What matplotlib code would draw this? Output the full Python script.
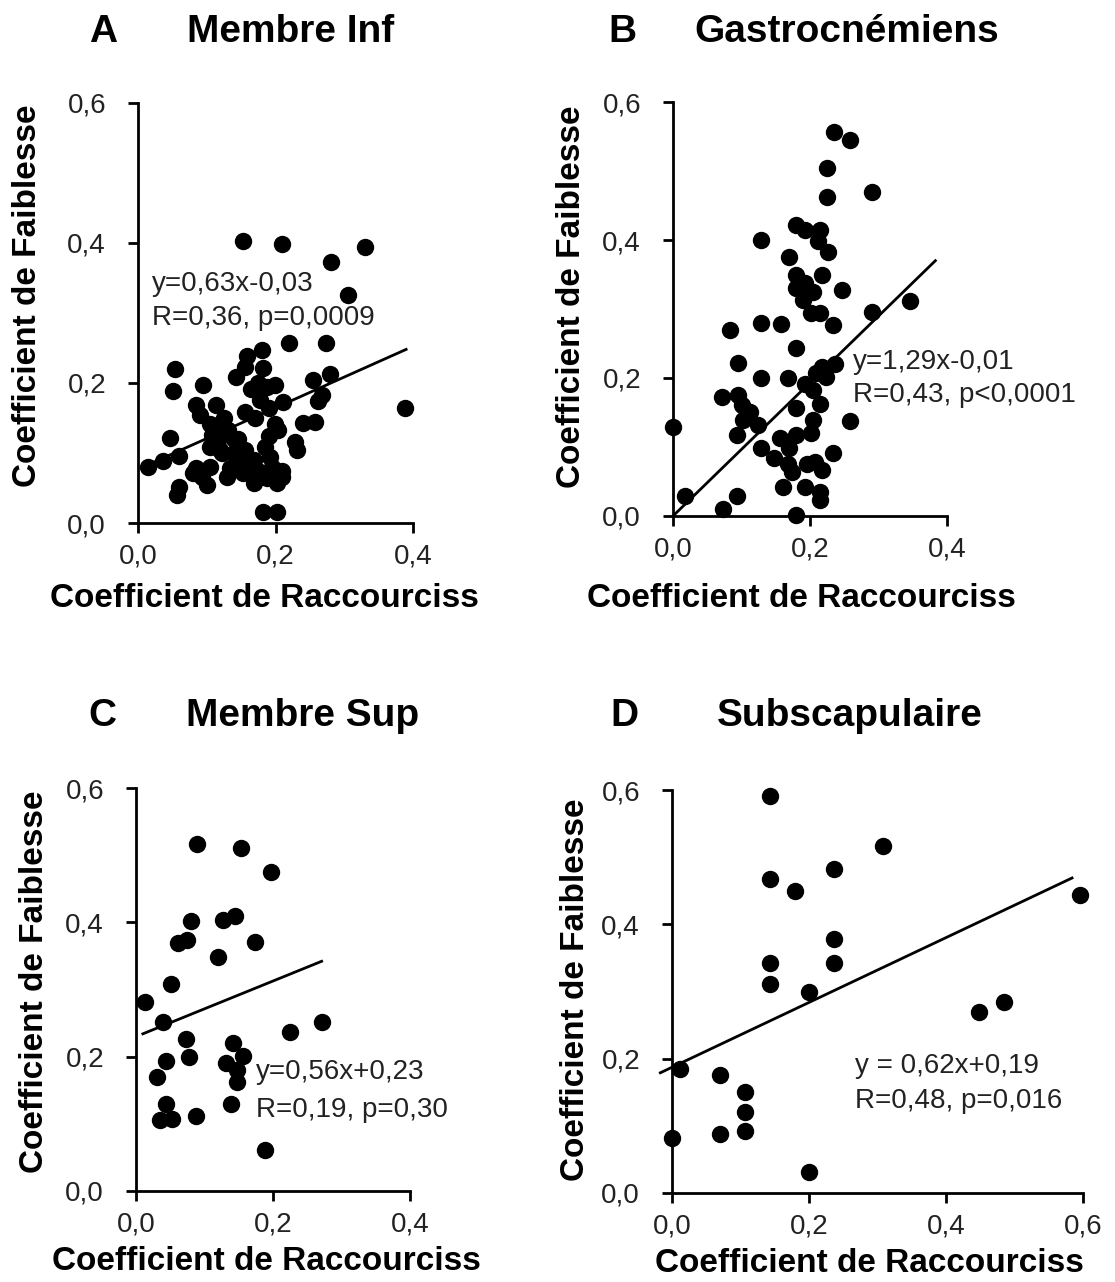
import matplotlib
matplotlib.use("Agg")
import matplotlib.pyplot as plt

W, H = 1115, 1282

# Panel A - Membre Inf
a_x = [0.153, 0.210, 0.330, 0.281, 0.306, 0.220, 0.273, 0.388,
       0.180, 0.158, 0.182, 0.143, 0.156, 0.054, 0.051, 0.095, 0.084, 0.114,
       0.165, 0.187, 0.199, 0.211, 0.255, 0.279, 0.267, 0.262, 0.156, 0.190,
       0.199, 0.204, 0.240, 0.257, 0.105, 0.117, 0.131, 0.107, 0.047, 0.228,
       0.231, 0.014, 0.037, 0.060, 0.085, 0.080, 0.100, 0.105, 0.119, 0.129,
       0.139, 0.156, 0.168, 0.153, 0.168, 0.185, 0.192, 0.187, 0.202, 0.209,
       0.059, 0.057, 0.182, 0.202, 0.148, 0.093, 0.122, 0.134, 0.105, 0.117,
       0.177, 0.170, 0.145, 0.125, 0.113, 0.160, 0.175, 0.195, 0.210, 0.090,
       0.140, 0.190, 0.175]
a_y = [0.403, 0.399, 0.394, 0.373, 0.326, 0.257, 0.257, 0.165,
       0.247, 0.238, 0.221, 0.209, 0.223, 0.220, 0.188, 0.197, 0.169, 0.169,
       0.192, 0.195, 0.197, 0.173, 0.204, 0.213, 0.183, 0.175, 0.159, 0.164,
       0.142, 0.133, 0.143, 0.144, 0.142, 0.140, 0.133, 0.126, 0.121, 0.116,
       0.104, 0.080, 0.088, 0.096, 0.078, 0.071, 0.054, 0.080, 0.104, 0.066,
       0.100, 0.104, 0.090, 0.071, 0.057, 0.109, 0.095, 0.064, 0.057, 0.066,
       0.052, 0.040, 0.016, 0.016, 0.090, 0.066, 0.100, 0.078, 0.109, 0.119,
       0.176, 0.150, 0.120, 0.150, 0.128, 0.085, 0.075, 0.080, 0.075, 0.155,
       0.120, 0.125, 0.200]
a_fit_x = [0.014, 0.390]
a_fit_y = [0.083, 0.248]

# Panel B - Gastrocnémiens
b_x = [0.235, 0.258, 0.225, 0.225, 0.290, 0.180, 0.192, 0.214, 0.212, 0.226,
       0.128, 0.169, 0.180, 0.217, 0.180, 0.192, 0.204, 0.246, 0.190, 0.202,
       0.214, 0.234, 0.290, 0.346, 0.083, 0.128, 0.158, 0.180, 0.095, 0.217,
       0.236, 0.209, 0.224, 0.128, 0.168, 0.192, 0.204, 0.071, 0.095, 0.100,
       0.112, 0.102, 0.124, 0.180, 0.214, 0.204, 0.258, 0.000, 0.093, 0.202,
       0.129, 0.156, 0.180, 0.170, 0.148, 0.168, 0.173, 0.195, 0.207, 0.217,
       0.234, 0.160, 0.192, 0.214, 0.214, 0.093, 0.017, 0.073, 0.180]
b_y = [0.556, 0.545, 0.505, 0.462, 0.470, 0.422, 0.414, 0.414, 0.398, 0.383,
       0.400, 0.376, 0.349, 0.349, 0.330, 0.337, 0.325, 0.328, 0.313, 0.294,
       0.294, 0.277, 0.296, 0.312, 0.269, 0.279, 0.278, 0.243, 0.222, 0.216,
       0.221, 0.207, 0.202, 0.200, 0.200, 0.192, 0.183, 0.173, 0.175, 0.161,
       0.151, 0.139, 0.132, 0.156, 0.163, 0.139, 0.137, 0.129, 0.117, 0.120,
       0.098, 0.113, 0.117, 0.098, 0.084, 0.076, 0.064, 0.076, 0.078, 0.067,
       0.091, 0.042, 0.042, 0.035, 0.023, 0.029, 0.029, 0.010, 0.001]
b_fit_x = [0.0, 0.383]
b_fit_y = [0.0, 0.370]

# Panel C - Membre Sup
c_x = [0.089, 0.154, 0.197, 0.080, 0.127, 0.145, 0.062, 0.074, 0.174, 0.120,
       0.051, 0.013, 0.039, 0.271, 0.225, 0.073, 0.142, 0.078, 0.044, 0.156,
       0.132, 0.147, 0.147, 0.030, 0.044, 0.035, 0.052, 0.088, 0.139, 0.188]
c_y = [0.516, 0.510, 0.475, 0.402, 0.404, 0.409, 0.369, 0.374, 0.371, 0.348,
       0.308, 0.282, 0.251, 0.252, 0.236, 0.227, 0.221, 0.200, 0.194, 0.201,
       0.190, 0.180, 0.163, 0.169, 0.130, 0.106, 0.107, 0.111, 0.130, 0.061]
c_fit_x = [0.010, 0.271]
c_fit_y = [0.234, 0.342]

# Panel D - Subscapulaire
d_x = [0.143, 0.308, 0.236, 0.143, 0.179, 0.595, 0.236, 0.143, 0.236, 0.143,
       0.200, 0.485, 0.448, 0.012, 0.070, 0.106, 0.106, 0.106, 0.070, 0.000,
       0.200]
d_y = [0.591, 0.516, 0.482, 0.467, 0.450, 0.443, 0.378, 0.343, 0.343, 0.311,
       0.299, 0.284, 0.270, 0.185, 0.176, 0.151, 0.121, 0.092, 0.088, 0.082,
       0.032]
d_fit_x = [-0.017, 0.584]
d_fit_y = [0.179, 0.469]

y_ticks = [0.0, 0.2, 0.4, 0.6]
y_ticklabels = ["0,0", "0,2", "0,4", "0,6"]

plt.rcParams["font.family"] = ["Liberation Sans", "DejaVu Sans"]

fig = plt.figure(figsize=(W / 100, H / 100), dpi=100)


def px_axes(left, top, right, bottom):
    return fig.add_axes([left / W, 1 - bottom / H, (right - left) / W, (bottom - top) / H])


def ftext(x, y, s, **kw):
    fig.text(x / W, 1 - y / H, s, **kw)


panels = [
    # axes box (px), data, fit, xmax, letter/title positions, label positions, annotation
    dict(box=(138, 103, 413, 523), x=a_x, y=a_y, fx=a_fit_x, fy=a_fit_y, xmax=0.4,
         letter=("A", 89, 32), title=("Membre Inf", 187, 32),
         xlab=(264, 598), ylab=(28, 296),
         ann=[("y=0,63x-0,03", 152, 284), ("R=0,36, p=0,0009", 152, 318)]),
    dict(box=(673, 102, 947, 516), x=b_x, y=b_y, fx=b_fit_x, fy=b_fit_y, xmax=0.4,
         letter=("B", 608, 32), title=("Gastrocnémiens", 694, 32),
         xlab=(801, 598), ylab=(572, 297),
         ann=[("y=1,29x-0,01", 853, 362), ("R=0,43, p<0,0001", 853, 395)]),
    dict(box=(136, 788, 410, 1191), x=c_x, y=c_y, fx=c_fit_x, fy=c_fit_y, xmax=0.4,
         letter=("C", 88, 716), title=("Membre Sup", 186, 716),
         xlab=(266, 1262), ylab=(35, 982),
         ann=[("y=0,56x+0,23", 256, 1072), ("R=0,19, p=0,30", 256, 1110)]),
    dict(box=(672, 790, 1083, 1193), x=d_x, y=d_y, fx=d_fit_x, fy=d_fit_y, xmax=0.6,
         letter=("D", 610, 716), title=("Subscapulaire", 717, 716),
         xlab=(869, 1264), ylab=(575, 990),
         ann=[("y = 0,62x+0,19", 855, 1066), ("R=0,48, p=0,016", 855, 1101)]),
]

for p in panels:
    ax = px_axes(*p["box"])
    ax.plot(p["x"], p["y"], "o", color="black", markersize=11.5, clip_on=False, zorder=3)
    ax.plot(p["fx"], p["fy"], color="black", linewidth=2.0, clip_on=False, zorder=2)

    ax.set_xlim(0, p["xmax"])
    ax.set_ylim(0, 0.6)
    xt = [0.0, 0.2, 0.4] if p["xmax"] == 0.4 else [0.0, 0.2, 0.4, 0.6]
    ax.set_xticks(xt)
    ax.set_xticklabels(y_ticklabels[:len(xt)])
    ax.set_yticks(y_ticks)
    ax.set_yticklabels(y_ticklabels)
    for side in ("top", "right"):
        ax.spines[side].set_visible(False)
    for side in ("left", "bottom"):
        ax.spines[side].set_linewidth(2.0)
    ax.tick_params(direction="out", length=7, width=2.0, labelsize=20,
                   colors="black", labelcolor="#222222")
    ax.tick_params(axis="y", pad=16)
    ax.tick_params(axis="x", pad=8)

    lt, lx, ly = p["letter"]
    ftext(lx, ly, lt, fontsize=28, fontweight="bold", ha="left", va="center")
    tt, tx, ty = p["title"]
    ftext(tx, ty, tt, fontsize=28, fontweight="bold", ha="left", va="center")
    ftext(*p["xlab"], "Coefficient de Raccourciss", fontsize=24, fontweight="bold",
          ha="center", va="center")
    ftext(*p["ylab"], "Coefficient de Faiblesse", fontsize=24, fontweight="bold",
          ha="center", va="center", rotation=90)
    for s, tx, ty in p["ann"]:
        ftext(tx, ty, s, fontsize=20, ha="left", va="center", color="#222222")

fig.savefig("out.png", dpi=100)
